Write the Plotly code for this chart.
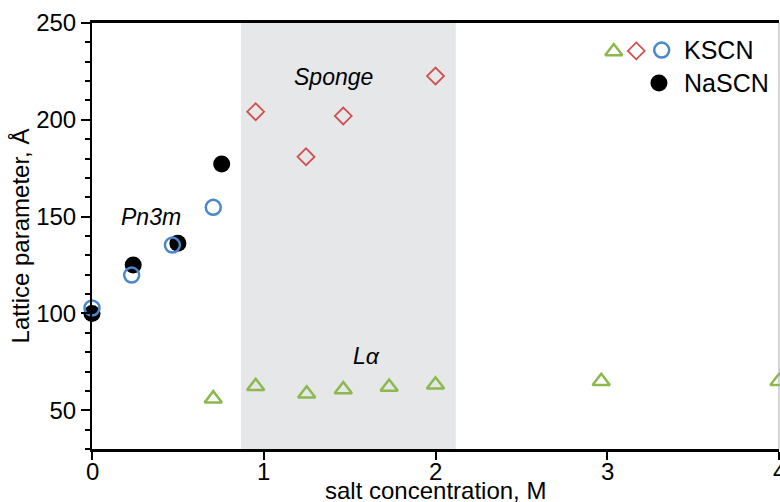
import plotly.graph_objects as go

# Data
nascn_x = [0.0, 0.24, 0.50, 0.755]
nascn_y = [100.0, 125.0, 136.2, 177.2]

kscn_cubic_x = [0.0, 0.231, 0.468, 0.706]
kscn_cubic_y = [102.8, 119.8, 135.3, 154.8]

kscn_sponge_x = [0.953, 1.246, 1.463, 2.0]
kscn_sponge_y = [204.2, 180.9, 202.0, 222.6]

kscn_lam_x = [0.706, 0.953, 1.25, 1.463, 1.73, 2.0, 2.965, 4.0]
kscn_lam_y = [56.0, 62.4, 58.5, 60.7, 62.0, 63.2, 65.0, 65.0]

sponge_region = [0.868, 2.118]

x_ticks = [0, 1, 2, 3, 4]
x_ticklabels = ["0", "1", "2", "3", "4"]
y_ticks = [50, 100, 150, 200, 250]

GREEN = "#8cb84d"
RED = "#d0504f"
BLUE = "#4a87cb"
FONT = "Liberation Sans, Arial, Helvetica, sans-serif"

fig = go.Figure()

fig.add_trace(go.Scatter(
    x=nascn_x, y=nascn_y, mode="markers", name="NaSCN",
    marker=dict(symbol="circle", size=17, color="black"),
    cliponaxis=False, showlegend=False))
fig.add_trace(go.Scatter(
    x=kscn_cubic_x, y=kscn_cubic_y, mode="markers", name="KSCN",
    marker=dict(symbol="circle-open", size=15, color=BLUE, line=dict(width=2.5, color=BLUE)),
    cliponaxis=False, showlegend=False))
fig.add_trace(go.Scatter(
    x=kscn_sponge_x, y=kscn_sponge_y, mode="markers", name="KSCN sponge",
    marker=dict(symbol="diamond-open", size=13, color=RED, line=dict(width=1.8, color=RED)),
    cliponaxis=False, showlegend=False))
fig.add_trace(go.Scatter(
    x=kscn_lam_x, y=kscn_lam_y, mode="markers", name="KSCN La",
    marker=dict(symbol="triangle-up-open", size=15, color=GREEN, line=dict(width=2.5, color=GREEN)),
    cliponaxis=False, showlegend=False))

# custom legend glyphs (placed in data space, top right)
fig.add_trace(go.Scatter(x=[3.038], y=[235.3], mode="markers", hoverinfo="skip",
    marker=dict(symbol="triangle-up-open", size=15, color=GREEN, line=dict(width=2.5, color=GREEN)),
    cliponaxis=False, showlegend=False))
fig.add_trace(go.Scatter(x=[3.169], y=[235.6], mode="markers", hoverinfo="skip",
    marker=dict(symbol="diamond-open", size=13, color=RED, line=dict(width=1.8, color=RED)),
    cliponaxis=False, showlegend=False))
fig.add_trace(go.Scatter(x=[3.317], y=[236.0], mode="markers", hoverinfo="skip",
    marker=dict(symbol="circle-open", size=15, color=BLUE, line=dict(width=2.5, color=BLUE)),
    cliponaxis=False, showlegend=False))
fig.add_trace(go.Scatter(x=[3.301], y=[219.0], mode="markers", hoverinfo="skip",
    marker=dict(symbol="circle", size=17, color="black"),
    cliponaxis=False, showlegend=False))

fig.add_shape(type="rect", xref="x", yref="paper", x0=sponge_region[0], x1=sponge_region[1],
              y0=0, y1=1, fillcolor="#e6e7e9", line=dict(width=0), layer="below")
fig.add_shape(type="line", xref="paper", yref="paper", x0=1, x1=1, y0=0, y1=1,
              line=dict(color="#aaaaaa", width=1))

annots = [
    dict(x=3.433, y=236.0, text="KSCN", xanchor="left", font=dict(size=25, color="black", family=FONT)),
    dict(x=3.433, y=219.0, text="NaSCN", xanchor="left", font=dict(size=25, color="black", family=FONT)),
    dict(x=1.407, y=222.1, text="<i>Sponge</i>", xanchor="center", font=dict(size=23, color="black", family=FONT)),
    dict(x=0.341, y=150.0, text="<i>Pn3m</i>", xanchor="center", font=dict(size=23, color="black", family=FONT)),
    dict(x=1.596, y=77.9, text="<i>Lα</i>", xanchor="center", font=dict(size=23, color="black", family=FONT)),
]
for a in annots:
    fig.add_annotation(xref="x", yref="y", showarrow=False, yanchor="middle", **a)

# x tick labels, placed on the x axis scale just below the axis line
for tv, tl in zip(x_ticks, x_ticklabels):
    fig.add_annotation(xref="x", yref="paper", x=tv, y=0, yshift=-7, text=tl,
                       showarrow=False, xanchor="center", yanchor="top",
                       font=dict(size=24, color="black", family=FONT))

# x axis title (cut off by the bottom edge, as in the reference)
fig.add_annotation(xref="paper", yref="paper", x=0.5, y=0, yshift=-26, text="salt concentration, M",
                   showarrow=False, xanchor="center", yanchor="top",
                   font=dict(size=24, color="black", family=FONT))

fig.update_layout(
    width=780, height=502,
    margin=dict(l=92, r=1, t=23, b=53, autoexpand=False),
    paper_bgcolor="white", plot_bgcolor="white",
    font=dict(family=FONT, size=24, color="black"),
    xaxis=dict(range=[0, 4], tickvals=x_ticks, ticks="outside", ticklen=8, tickwidth=1.5,
               tickcolor="black", showline=True, linecolor="black", linewidth=2.5, mirror=True,
               showgrid=False, zeroline=False, showticklabels=False, automargin=False),
    yaxis=dict(range=[30, 250], tickvals=y_ticks, ticks="outside", ticklen=9, tickwidth=1.5,
               tickcolor="black", showline=True, linecolor="black", linewidth=2,
               showgrid=False, zeroline=False, tickfont=dict(size=24), automargin=False,
               minor=dict(dtick=10, tick0=0, ticks="outside", ticklen=5, tickwidth=1.5, tickcolor="black", showgrid=False),
               title=dict(text="Lattice parameter, Å", font=dict(size=24), standoff=0)),
)

fig.write_html("out.html")
